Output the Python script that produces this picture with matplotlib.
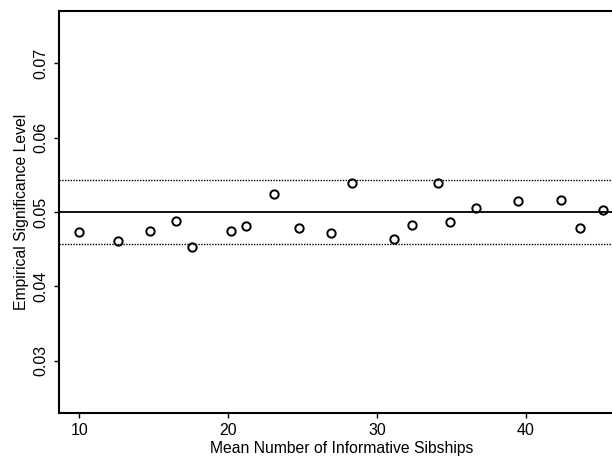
import matplotlib
matplotlib.use("Agg")
import matplotlib.pyplot as plt

# mean number of informative sibships vs empirical significance level
sibships = [10.0, 12.62, 14.77, 16.48, 17.56, 20.16, 21.19, 23.07, 24.73, 26.93,
            28.29, 31.12, 32.35, 34.12, 34.91, 36.63, 39.50, 42.39, 43.65, 45.17]
signif = [0.04732, 0.04615, 0.04745, 0.04875, 0.04534, 0.04741, 0.04816, 0.05237,
          0.04790, 0.04714, 0.05385, 0.04638, 0.04826, 0.05385, 0.04862, 0.05058,
          0.05148, 0.05161, 0.04790, 0.05031]

nominal = 0.05
bounds = [0.0457, 0.0543]
xticks = [10, 20, 30, 40]
yticks = [0.03, 0.04, 0.05, 0.06, 0.07]

plt.rcParams['font.family'] = ['Liberation Sans', 'DejaVu Sans']

fig = plt.figure(figsize=(6.12, 4.57), dpi=100)
ax = fig.add_axes([0.0964, 0.0963, 0.9232, 0.8796])

ax.axhline(nominal, color='black', lw=1.3)
for b in bounds:
    ax.axhline(b, color='black', lw=1.0, ls=(0, (1, 1)))

ax.plot(sibships, signif, 'o', ms=6, mfc='none', mec='black', mew=1.4)

ax.set_xlim(8.63, 46.6)
ax.set_ylim(0.023, 0.077)
ax.set_xticks(xticks)
ax.set_yticks(yticks)
ax.set_yticklabels([f'{t:.2f}' for t in yticks], rotation=90, va='center')
ax.tick_params(axis='both', length=3.5, width=1, labelsize=11.5, direction='out')
ax.tick_params(axis='y', pad=4)
ax.tick_params(axis='x', pad=4)

for s in ['left', 'bottom', 'top']:
    ax.spines[s].set_linewidth(1.5)
ax.spines['right'].set_visible(False)

ax.set_xlabel('Mean Number of Informative Sibships', fontsize=11.3, labelpad=2)
ax.set_ylabel('Empirical Significance Level', fontsize=11.3, labelpad=3)

fig.savefig('out.png', dpi=100)
